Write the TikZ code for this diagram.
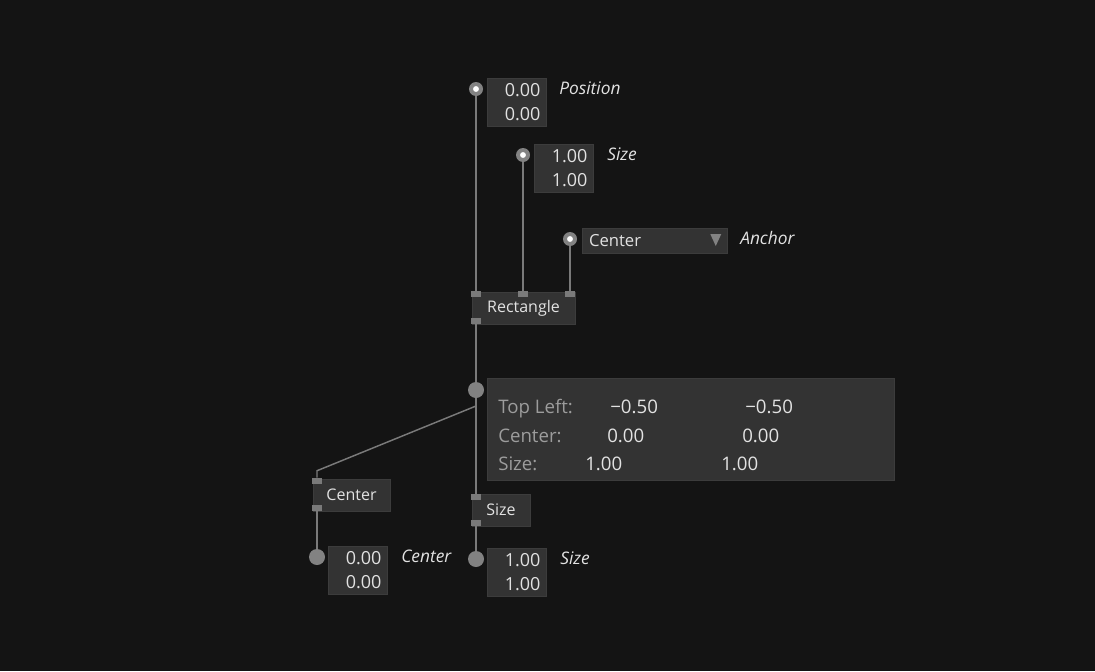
\documentclass[tikz,border=0pt]{standalone}
\usepackage{fontspec}
\setmainfont{Open Sans}
\usepackage{tikz}
\usetikzlibrary{positioning, calc}
\usepackage{xcolor}
\definecolor{bg}{HTML}{141414}
\definecolor{panel}{HTML}{333333}
\definecolor{edge}{HTML}{3C3C3C}
\definecolor{wiregray}{HTML}{7A7A7A}
\definecolor{sock}{HTML}{828282}
\definecolor{txt}{HTML}{E2E2E2}
\definecolor{dim}{HTML}{9C9C9C}
\tikzset{
	wire/.style={draw=wiregray, line width=1.1pt},
	insock/.style={circle, fill=sock, minimum size=10.5pt, inner sep=0pt,
		path picture={\fill[white] (path picture bounding box.center) circle (2.2pt);}},
	outsock/.style={circle, fill=sock, minimum size=12pt, inner sep=0pt},
	valbox/.style={fill=panel, draw=edge, minimum width=44.25pt, minimum height=36pt,
		text width=36pt, align=right, inner sep=0pt, text=txt, font=\fontsize{13.5}{18}\selectfont},
	opbox/.style={fill=panel, draw=edge, minimum height=24pt, inner sep=0pt, text=txt,
		font=\fontsize{12}{14}\selectfont},
	port/.style={fill=wiregray, minimum width=7.5pt, minimum height=4.5pt, inner sep=0pt},
	lbl/.style={anchor=west, inner sep=0pt, text=txt, font=\fontsize{13}{15}\selectfont\itshape},
	info/.style={anchor=base west, inner sep=0pt, text=dim, font=\fontsize{14}{16}\selectfont},
	num/.style={info, text=txt}
}

\begin{document}
\begin{tikzpicture}[x=0.75pt, y=-0.75pt]
	\fill[bg] (0,0) rectangle (1095,671);
	\useasboundingbox (0,0) rectangle (1095,671);
	
	\node[insock] (sPos) at (476,89) {};
	\node[valbox] (vPos) at (516.5,102) {0.00\\0.00};
	\node[lbl] (lPos) at (559,88) {Position};
	
	\node[insock] (sSz) at (523,155) {};
	\node[valbox] (vSz) at (563.5,168) {1.00\\1.00};
	\node[lbl] (lSz) at (607,154) {Size};
	
	\node[insock] (sAn) at (570,239) {};
	\node[fill=panel, draw=edge, minimum width=108.75pt, minimum height=18.75pt, inner sep=0pt] (dd) at (654.5,240.5) {};
	\node[anchor=west, inner sep=0pt, text=txt, font=\fontsize{12.5}{14}\selectfont] (ddtxt) at ([xshift=5.25pt]dd.west) {Center};
	\fill[sock] ($(dd.east)+(-17,-6.5)$) -- ($(dd.east)+(-6,-6.5)$) -- ($(dd.east)+(-11.5,5.5)$) -- cycle;
	\node[lbl] (lAn) at (740,238) {Anchor};
	
	\node[opbox, minimum width=77.25pt] (rect) at (523.5,308) {Rectangle};
	\node[port] (r1) at (476,294) {};
	\node[port] (r2) at (523,294) {};
	\node[port] (r3) at (570,294) {};
	\node[port] (r0) at (476,321) {};
	
	\node[outsock] (oR) at (476,390) {};
	\node[fill=panel, draw=edge, minimum width=305.25pt, minimum height=76.5pt, inner sep=0pt] (ib) at (690.5,429) {};
	\node[info] (tTL) at (498,413) {Top Left:};
	\node[num] (tTLx) at (610,413) {−0.50};
	\node[num] (tTLy) at (745,413) {−0.50};
	\node[info] (tC) at (498,442) {Center:};
	\node[num] (tCx) at (607,442) {0.00};
	\node[num] (tCy) at (742,442) {0.00};
	\node[info] (tS) at (498,470) {Size:};
	\node[num] (tSx) at (585,470) {1.00};
	\node[num] (tSy) at (721,470) {1.00};
	
	\node[opbox, minimum width=57.75pt] (cen) at (351.5,495) {Center};
	\node[port] (c1) at (317,481) {};
	\node[port] (c0) at (317,508) {};
	
	\node[opbox, minimum width=43.5pt] (siz) at (501,510) {Size};
	\node[port] (z1) at (476,497) {};
	\node[port] (z0) at (476,523) {};
	
	\node[outsock] (oC) at (317,557) {};
	\node[valbox] (vC) at (357.5,570) {0.00\\0.00};
	\node[lbl] (lC) at (401,556) {Center};
	
	\node[outsock] (oZ) at (476,559) {};
	\node[valbox] (vZ) at (516.5,572) {1.00\\1.00};
	\node[lbl] (lZ) at (560,558) {Size};
	
	\coordinate (split) at (476,406);
	\draw[wire] (sPos) -- (r1);
	\draw[wire] (sSz) -- (r2);
	\draw[wire] (sAn) -- (r3);
	\draw[wire] (r0) -- (oR);
	\draw[wire] (oR) -- (z1);
	\draw[wire] (split) -- ([yshift=5.25pt]c1.north) -- (c1);
	\draw[wire] (c0) -- (oC);
	\draw[wire] (z0) -- (oZ);
\end{tikzpicture}
\end{document}
